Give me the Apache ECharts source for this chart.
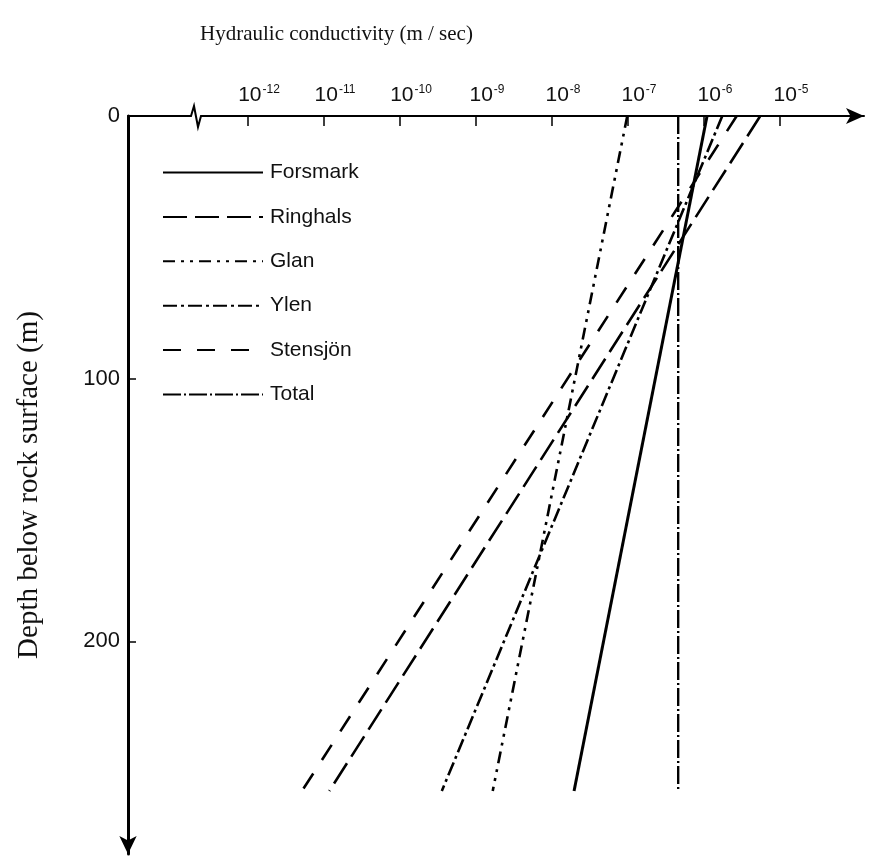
<!DOCTYPE html>
<html>
<head>
<meta charset="utf-8">
<script src="https://cdn.jsdelivr.net/npm/echarts@6/dist/echarts.min.js"></script>
<style>html,body{margin:0;padding:0;background:#fff;}#c{width:875px;height:866px;}</style>
</head>
<body>
<div id="c"></div>
<script>
// log10 of hydraulic conductivity (m/s) at top and bottom of each line
const depths = [0, 257];
const seriesNames = ['Forsmark', 'Ringhals', 'Glan', 'Ylen', 'Stensjön', 'Total'];
const forsmark = [-5.96, -7.71];
const ringhals = [-5.26, -10.93];
const glan = [-7.01, -8.78];
const ylen = [-5.76, -9.45];
const stensjon = [-5.57, -11.29];
const total = [-6.34, -6.34];
const xTickExponents = [-12, -11, -10, -9, -8, -7, -6, -5];
const yTicks = [0, 100, 200];

const dashes = {
  'Forsmark': 'solid',
  'Ringhals': [24, 8],
  'Glan': [12, 6, 3, 6, 3, 6],
  'Ylen': [14, 4, 3, 4],
  'Stensjön': [18, 16],
  'Total': [18, 3, 2, 3]
};
const widths = { 'Forsmark': 3, 'Ringhals': 2.6, 'Glan': 2.6, 'Ylen': 2.6, 'Stensjön': 2.6, 'Total': 2.4 };
const valuesList = [forsmark, ringhals, glan, ylen, stensjon, total];

const series = seriesNames.map((name, i) => ({
  name: name,
  type: 'line',
  symbol: 'none',
  data: depths.map((d, j) => [valuesList[i][j], d]),
  lineStyle: { color: '#000', width: widths[name], type: dashes[name] },
  itemStyle: { color: '#000', opacity: 0 },
  silent: true,
  animation: false
}));

const chart = echarts.init(document.getElementById('c'));
chart.setOption({
  backgroundColor: '#fff',
  animation: false,
  grid: { left: 128, top: 116, width: 736, height: 738 },
  legend: {
    orient: 'vertical',
    left: 157,
    top: 157,
    itemWidth: 100,
    itemHeight: 22,
    itemGap: 23.4,
    data: seriesNames,
    itemStyle: { opacity: 0 },
    textStyle: { fontFamily: 'Liberation Sans', fontSize: 21, color: '#111', padding: [0, 0, 0, 2] },
    selectedMode: false
  },
  xAxis: {
    type: 'value',
    position: 'top',
    min: -13.579,
    max: -3.895,
    splitLine: { show: false },
    axisLine: { show: true, lineStyle: { color: '#000', width: 2 }, symbol: ['none', 'arrow'], symbolSize: [12, 18] },
    axisTick: { show: true, inside: true, length: 10, lineStyle: { color: '#000', width: 1.5 }, customValues: xTickExponents },
    axisLabel: {
      show: true,
      margin: 10,
      customValues: xTickExponents,
      formatter: v => '{b|10}{s|' + v + '}',
      padding: [0, 0, 0, 22],
      rich: {
        b: { fontFamily: 'Liberation Sans', fontSize: 21, color: '#111' },
        s: { fontFamily: 'Liberation Sans', fontSize: 12, color: '#111', verticalAlign: 'top', padding: [0, 0, 10, 1] }
      }
    }
  },
  yAxis: {
    type: 'value',
    inverse: true,
    min: 0,
    max: 281,
    interval: 100,
    name: 'Depth below rock surface (m)',
    nameLocation: 'middle',
    nameGap: 84,
    nameRotate: 90,
    nameTextStyle: { fontFamily: 'Liberation Serif', fontSize: 29, color: '#111' },
    splitLine: { show: false },
    axisLine: { show: true, lineStyle: { color: '#000', width: 3 }, symbol: ['arrow', 'none'], symbolSize: [13, 18] },
    axisTick: { show: true, inside: true, length: 8, lineStyle: { color: '#000', width: 1.5 }, customValues: yTicks },
    axisLabel: { show: true, margin: 8, customValues: yTicks, fontFamily: 'Liberation Sans', fontSize: 22, color: '#111' }
  },
  graphic: [
    {
      type: 'text',
      left: 200,
      top: 24,
      style: { text: 'Hydraulic conductivity (m / sec)', font: '21px "Liberation Serif"', fill: '#111' }
    },
    {
      type: 'rect',
      shape: { x: 186, y: 112, width: 18, height: 8 },
      style: { fill: '#fff' },
      z: 100
    },
    {
      type: 'polyline',
      shape: { points: [[185, 116], [191, 116], [194, 106], [198, 127], [201, 116], [205, 116]] },
      style: { stroke: '#000', lineWidth: 2, fill: null },
      z: 101
    }
  ],
  series: series
});
</script>
</body>
</html>
